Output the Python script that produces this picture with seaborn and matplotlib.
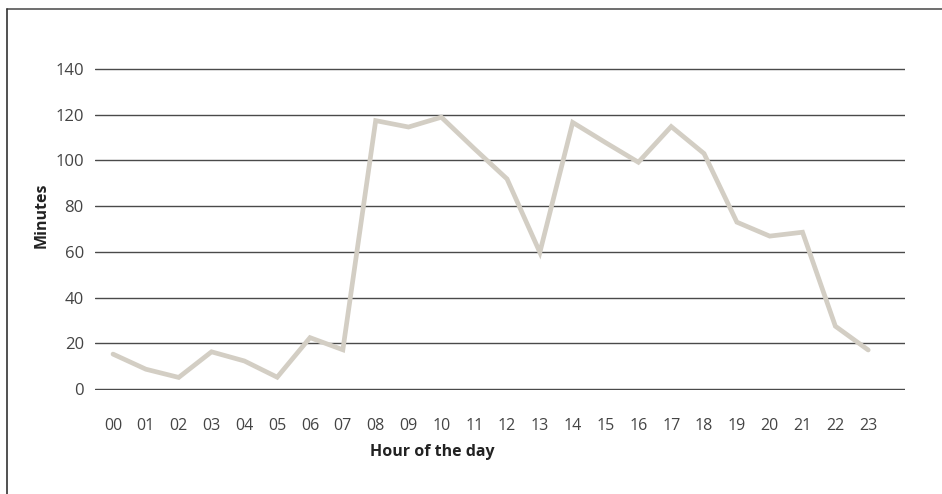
import matplotlib
matplotlib.use("Agg")
import matplotlib.pyplot as plt
from matplotlib.lines import Line2D
import seaborn as sns
import pandas as pd

hours = ["00", "01", "02", "03", "04", "05", "06", "07", "08", "09", "10", "11",
         "12", "13", "14", "15", "16", "17", "18", "19", "20", "21", "22", "23"]
minutes = [15.3, 8.7, 5.1, 16.3, 12.3, 5.2, 22.5, 17.2, 117.4, 114.6, 118.9, 105.2,
           91.9, 59.8, 116.6, 107.8, 99.2, 114.8, 103.0, 73.0, 66.9, 68.6, 27.5, 17.1]
y_ticks = [0, 20, 40, 60, 80, 100, 120, 140]

df = pd.DataFrame({"hour": hours, "minutes": minutes})
df["pos"] = range(len(hours))

sns.set_theme(style="white")
plt.rcParams["font.family"] = ["Open Sans", "DejaVu Sans"]

fig = plt.figure(figsize=(9.42, 4.94), dpi=100)
ax = fig.add_axes([0.1008, 0.2105, 0.8599, 0.6518])

sns.lineplot(data=df, x="pos", y="minutes", ax=ax, color="#d3cec4",
             linewidth=3.4, solid_capstyle="round", solid_joinstyle="miter",
             clip_on=False, zorder=3)

ax.set_xlim(-0.55, 24.12)
ax.set_ylim(-0.4, 140.4)
ax.set_yticks(y_ticks)
ax.set_xticks(df["pos"])
ax.set_xticklabels(hours)
ax.yaxis.grid(True, color="#4a4a4a", linewidth=1.0)
ax.set_axisbelow(True)
for s in ax.spines.values():
    s.set_visible(False)
ax.tick_params(axis="both", length=0, labelcolor="#444444")
ax.tick_params(axis="y", pad=8, labelsize=12)
ax.tick_params(axis="x", pad=20, labelsize=11.5)

ax.set_xlabel("Hour of the day", fontsize=11.5, fontweight="bold", color="#222222")
ax.set_ylabel("Minutes", fontsize=11.5, fontweight="bold", color="#222222")
ax.xaxis.set_label_coords(0.417, -0.168)
ax.yaxis.set_label_coords(-0.056, 0.543)

# frame lines at top and left of the figure
fig.add_artist(Line2D([0.0074, 1.0], [0.982, 0.982], transform=fig.transFigure,
                      color="#555555", linewidth=1.2))
fig.add_artist(Line2D([0.0074, 0.0074], [0.0, 0.982], transform=fig.transFigure,
                      color="#333333", linewidth=1.2))

fig.savefig("out.png", dpi=100)
